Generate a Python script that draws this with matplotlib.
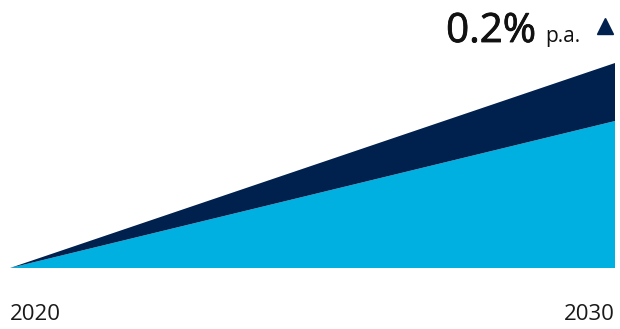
import matplotlib.pyplot as plt
import matplotlib.patheffects as pe

plt.rcParams['font.family'] = ['Open Sans', 'DejaVu Sans']

years = [2020, 2030]
light = [0.0, 0.717]   # lower band
dark = [0.0, 0.283]    # upper band stacked on top
growth_label = '0.2%'
unit_label = 'p.a.'

light_col = '#00b0e0'
dark_col = '#00204e'

fig = plt.figure(figsize=(6.2, 3.29), dpi=100)
ax = fig.add_axes([10 / 620, 61 / 329, 605 / 620, 205 / 329])

ax.stackplot(years, light, dark, colors=[light_col, dark_col], linewidth=0)
ax.set_xlim(years[0], years[-1])
ax.set_ylim(0, 1)
ax.axis('off')

# year labels under the area
fig.text(10 / 620, 1 - 315 / 329, str(years[0]), fontsize=16, color='#1a1a1a',
         ha='left', va='center')
fig.text(615 / 620, 1 - 315 / 329, str(years[-1]), fontsize=16, color='#1a1a1a',
         ha='right', va='center')

# growth annotation top right (slightly thickened regular weight)
fig.text(536 / 620, 1 - 42 / 329, growth_label, fontsize=29,
         color='#111111', ha='right', va='baseline',
         path_effects=[pe.withStroke(linewidth=0.6, foreground='#111111')])
fig.text(545 / 620, 1 - 42 / 329, unit_label, fontsize=15, color='#111111',
         ha='left', va='baseline')
fig.lines.append(plt.Line2D([605 / 620], [1 - 26 / 329], transform=fig.transFigure,
                            marker='^', markersize=12, color=dark_col, linestyle='none'))

fig.savefig('out.png', dpi=100)
